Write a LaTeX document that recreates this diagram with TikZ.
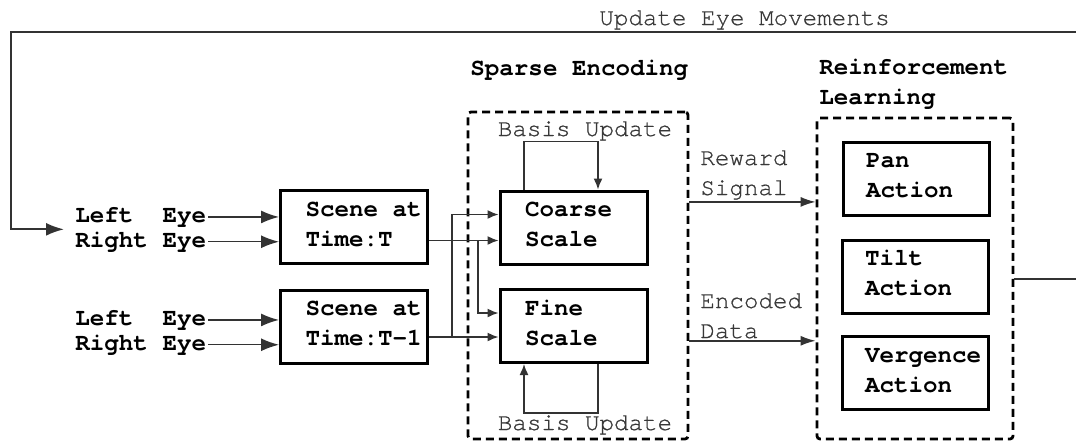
\documentclass[tikz,border=0pt]{standalone}
\usepackage{fontspec}
\setmonofont{texgyrecursor-regular.otf}[BoldFont=texgyrecursor-bold.otf, HyphenChar=None]
\newfontfamily\notefont{texgyrecursor-regular.otf}[FakeBold=0.7]
\usetikzlibrary{arrows.meta,calc}
% one left-aligned line of a block label, fixed width so long words overhang
\newcommand\boxline[2][48.5pt]{\makebox[#1][l]{#2}}
\begin{document}
\begin{tikzpicture}[x=0.5pt,y=-0.5pt,
  every node/.style={font=\ttfamily\fontsize{12.1}{15}\selectfont, inner sep=1pt},
  lbl/.style={font=\ttfamily\bfseries\fontsize{12.1}{15}\selectfont, anchor=base west},
  note/.style={font=\notefont\fontsize{12.1}{15}\selectfont, text=black!78, anchor=base west},
  blk/.style={draw, line width=1.5pt, font=\ttfamily\bfseries\fontsize{12.1}{15}\selectfont,
    align=left, inner xsep=12.5pt, inner ysep=0pt, minimum height=36.5pt,
    text height=23.5pt, text depth=4.5pt},
  rlblk/.style={blk, inner xsep=11.5pt},
  group/.style={draw, line width=1.4pt, dash pattern=on 4pt off 2.5pt,
    rounded corners=1.5pt, inner sep=0pt},
  conn/.style={draw=black!80, line width=0.75pt},
  bigtip/.tip={Latex[length=9pt,width=6.5pt]},
  midtip/.tip={Latex[length=7.5pt,width=5pt]},
  smtip/.tip={Latex[length=5.5pt,width=4.5pt]}]
\useasboundingbox (0,0) rectangle (1076,441);

% dashed stage containers and their titles
\node[group, minimum width=110pt, minimum height=163.5pt] (se) at (578,275.5) {};
\node[group, minimum width=98pt, minimum height=160.5pt] (rl) at (915,278.5) {};
\node[lbl] (seT) at (468,75) {Sparse Encoding};
\node[lbl, align=left] (rlT) at (817,104) {Reinforcement\\Learning};

% eye inputs
\node[lbl] (le1) at (73,222) {Left~~Eye};
\node[lbl] (re1) at (73,247) {Right Eye};
\node[lbl] (le2) at (73,325) {Left~~Eye};
\node[lbl] (re2) at (73,350) {Right Eye};

% scene frames
\node[blk] (scT) at (354,227) {\boxline{Scene at}\\\boxline{Time:T}};
\node[blk] (scT1) at (354,326.5) {\boxline{Scene at}\\\boxline{Time:T-1}};

% sparse coding scales
\node[blk] (cs) at (573.5,227.5) {\boxline{Coarse}\\\boxline{Scale}};
\node[blk] (fs) at (573.5,326) {\boxline{Fine}\\\boxline{Scale}};
\node[note, anchor=base] (buTop) at (585,136) {Basis Update};
\node[note, anchor=base] (buBot) at (585,430) {Basis Update};

% actions
\node[rlblk] (pan) at (916,178.5) {\boxline[50pt]{Pan}\\\boxline[50pt]{Action}};
\node[rlblk] (tilt) at (915,276.5) {\boxline[50pt]{Tilt}\\\boxline[50pt]{Action}};
\node[rlblk] (verg) at (915,373) {\boxline[50pt]{Vergence}\\\boxline[50pt]{Action}};

% signals between the stages
\node[note, align=left] (rs) at (698,195) {Reward\\Signal};
\node[note, align=left] (ed) at (698,338) {Encoded\\Data};
\node[note] (uem) at (597,25) {Update Eye Movements};

% eyes into scene frames
\draw[conn, -bigtip] (le1.east) -- (le1.east -| scT.west);
\draw[conn, -bigtip] (re1.east) -- (re1.east -| scT.west);
\draw[conn, -bigtip] (le2.east) -- (le2.east -| scT1.west);
\draw[conn, -bigtip] (re2.east) -- (re2.east -| scT1.west);

% scene frames into both scales
\coordinate (csA) at ([yshift=6.5pt]cs.west);
\coordinate (csB) at ([yshift=-6.5pt]cs.west);
\coordinate (fsA) at ([yshift=6.5pt]fs.west);
\coordinate (fsB) at ([yshift=-5.5pt]fs.west);
\coordinate (brT) at ($(scT.east |- csB)+(24.5pt,0)$);
\coordinate (brT1) at ($(scT1.east |- fsB)+(11.5pt,0)$);
\draw[conn, -smtip] (scT.east |- csB) -- (csB);
\draw[conn, -smtip] (brT) |- (fsA);
\draw[conn, -smtip] (scT1.east |- fsB) -- (fsB);
\draw[conn, -smtip] (brT1) |- (csA);

% basis update loops
\draw[conn, -smtip] ([xshift=-24.75pt]cs.north) -- ++(0,24pt) -| ([xshift=12.25pt]cs.north);
\draw[conn, -smtip] ([xshift=12.25pt]fs.south) -- ++(0,-24.5pt) -| ([xshift=-24.75pt]fs.south);

% encoder to reinforcement learning
\draw[conn, -midtip] (se.east |- rs.south) -- (rl.west |- rs.south);
\draw[conn, -midtip] (se.east |- ed.south) -- (rl.west |- ed.south);

% feedback of eye movements
\coordinate (fbR) at (1100,32);
\coordinate (fbL) at (11,32);
\coordinate (fbEnd) at ($(le1.west)!0.5!(re1.west)+(-4.5pt,0)$);
\draw[conn, line width=1pt, -bigtip] (rl.east) -| (fbR) -- (fbL) |- (fbEnd);
\end{tikzpicture}
\end{document}
